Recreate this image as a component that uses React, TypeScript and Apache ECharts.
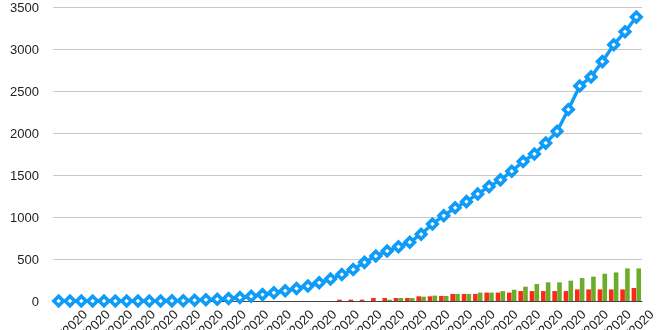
import React, { useEffect, useRef } from "react";
import * as echarts from "echarts";

const categories = [
  "1/22/2020", "1/23/2020", "1/24/2020", "1/25/2020", "1/26/2020", "1/27/2020", "1/28/2020", "1/29/2020", "1/30/2020", "1/31/2020",
  "2/1/2020", "2/2/2020", "2/3/2020", "2/4/2020", "2/5/2020", "2/6/2020", "2/7/2020", "2/8/2020", "2/9/2020", "2/10/2020",
  "2/11/2020", "2/12/2020", "2/13/2020", "2/14/2020", "2/15/2020", "2/16/2020", "2/17/2020", "2/18/2020", "2/19/2020", "2/20/2020",
  "2/21/2020", "2/22/2020", "2/23/2020", "2/24/2020", "2/25/2020", "2/26/2020", "2/27/2020", "2/28/2020", "2/29/2020",
  "3/1/2020", "3/2/2020", "3/3/2020", "3/4/2020", "3/5/2020", "3/6/2020", "3/7/2020", "3/8/2020", "3/9/2020", "3/10/2020",
  "3/11/2020", "3/12/2020", "3/13/2020",
];

const lineValues = [
  0, 0, 0, 0, 0, 0, 0, 0, 0, 0,
  2, 3, 9, 14, 20, 30, 42, 56, 76, 98,
  122, 148, 178, 218, 262, 316, 375, 460, 535, 595,
  645, 700, 795, 917, 1016, 1110, 1183, 1275, 1362, 1442,
  1545, 1661, 1750, 1880, 2020, 2280, 2560, 2668, 2850, 3050,
  3206, 3380,
];

const redValues = [
  0, 0, 0, 0, 0, 0, 0, 0, 0, 0,
  0, 0, 0, 0, 0, 0, 0, 0, 0, 0,
  0, 0, 0, 0, 0, 16, 16, 16, 36, 36,
  36, 36, 56, 56, 60, 84, 84, 84, 100, 100,
  100, 118, 118, 118, 118, 118, 138, 138, 138, 138,
  138, 155,
];

const greenValues = [
  0, 0, 0, 0, 0, 0, 0, 0, 0, 0,
  0, 0, 0, 0, 0, 0, 0, 0, 0, 0,
  0, 0, 0, 0, 0, 0, 0, 0, 0, 16,
  36, 36, 52, 64, 60, 84, 84, 100, 100, 118,
  133, 170, 202, 222, 222, 242, 273, 290, 325, 340,
  388, 388,
];

const yTicks = { min: 0, max: 3500, interval: 500 };

export default function App() {
  const ref = useRef<HTMLDivElement>(null);
  useEffect(() => {
    if (!ref.current) return;
    const chart = echarts.init(ref.current, undefined, { renderer: "svg" });
    const font = "'Liberation Sans', Arial, Helvetica, sans-serif";
    const labelStyle = {
      interval: (index: number) => index % 2 === 1,
      rotate: 45,
      margin: 8,
      fontSize: 13,
      color: "#222",
      fontFamily: font,
      hideOverlap: false,
    };
    chart.setOption({
      animation: false,
      grid: [
        { left: 53, right: 18, top: 7, bottom: 29, containLabel: false, outerBoundsMode: "none" },
        // label-only grid, same width, shifted so the date labels sit where the reference draws them
        { left: 68, right: 3, top: 7, bottom: 26, containLabel: false, outerBoundsMode: "none" },
      ],
      xAxis: [
        {
          type: "category",
          gridIndex: 0,
          data: categories,
          boundaryGap: true,
          axisLine: { show: true, lineStyle: { color: "#444", width: 1 } },
          axisTick: { show: false },
          axisLabel: { show: false },
          splitLine: { show: false },
        },
        {
          type: "category",
          gridIndex: 1,
          data: categories,
          boundaryGap: true,
          axisLine: { show: false },
          axisTick: { show: false },
          axisLabel: labelStyle,
          splitLine: { show: false },
        },
      ],
      yAxis: [
        {
          type: "value",
          gridIndex: 0,
          min: yTicks.min,
          max: yTicks.max,
          interval: yTicks.interval,
          axisLine: { show: false },
          axisTick: { show: false },
          axisLabel: {
            fontSize: 13,
            color: "#222",
            margin: 14,
            fontFamily: font,
            formatter: (v: number) => String(v),
          },
          splitLine: { lineStyle: { color: "#c8c8c8", width: 1 } },
        },
        {
          type: "value",
          gridIndex: 1,
          min: yTicks.min,
          max: yTicks.max,
          interval: yTicks.interval,
          show: false,
          splitLine: { show: false },
        },
      ],
      series: [
        {
          type: "bar",
          data: redValues,
          barWidth: 4.6,
          barGap: "5%",
          itemStyle: { color: "#fb2a16" },
          z: 2,
        },
        {
          type: "bar",
          data: greenValues,
          barWidth: 4.6,
          barGap: "5%",
          itemStyle: { color: "#6aad2a" },
          z: 2,
        },
        {
          type: "line",
          data: lineValues,
          symbol: "diamond",
          symbolSize: 9.5,
          showAllSymbol: true,
          lineStyle: { color: "#0e9cf8", width: 3.4 },
          itemStyle: { color: "#ffffff", borderColor: "#0e9cf8", borderWidth: 3.6 },
          z: 5,
        },
      ],
    });
    return () => chart.dispose();
  }, []);
  return (
    <div
      ref={ref}
      style={{ position: "fixed", left: 0, top: 0, width: 660, height: 330 }}
    />
  );
}
